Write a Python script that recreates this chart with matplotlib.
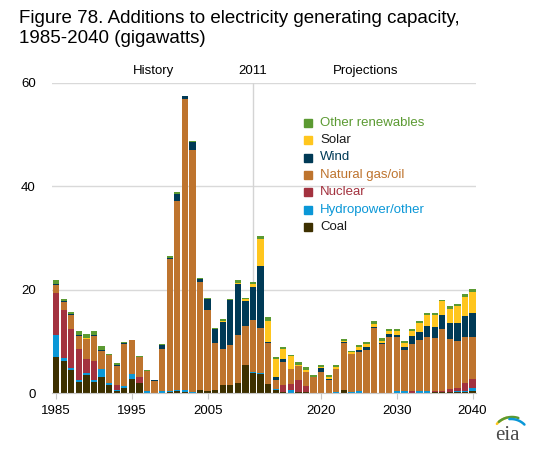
import numpy as np
import matplotlib.pyplot as plt
from matplotlib.patches import Rectangle

plt.rcParams['font.family'] = ['Liberation Sans', 'DejaVu Sans']

years = list(range(1985, 2041))

coal = [7.0, 6.2, 4.45, 2.2, 3.5, 2.1, 3.1, 1.55, 0.4, 1.0,
        2.7, 2.0, 0, 0, 0, 0.2, 0.3, 0.1, 0, 0.6,
        0.45, 0.65, 1.6, 1.6, 2.0, 5.4, 3.9, 3.7, 1.7, 0.6,
        0.2, 0, 0.2, 0.2, 0, 0, 0, 0, 0.6, 0,
        0, 0, 0, 0, 0, 0, 0, 0, 0, 0,
        0.2, 0.2, 0.2, 0.2, 0.2, 0.3]
hydro = [4.2, 0.6, 0.35, 0.3, 0.4, 0.4, 1.5, 0.45, 0.25, 0.35,
         1.0, 0, 0.3, 0, 0.3, 0.1, 0.3, 0.4, 0.2, 0,
         0, 0, 0, 0, 0, 0, 0.2, 0.2, 0, 0.2,
         0, 0.6, 0, 0, 0, 0, 0, 0.2, 0, 0.2,
         0.3, 0, 0, 0, 0, 0.3, 0.4, 0, 0.4, 0.3,
         0, 0, 0, 0.2, 0.1, 0.7]
nuclear = [8.1, 9.3, 7.6, 6.0, 2.7, 3.7, 0, 0, 0.9, 0,
           0, 1.0, 0, 0, 0, 0, 0, 0, 0, 0,
           0, 0, 0, 0, 0, 0, 0, 0, 0, 0,
           1.4, 1.2, 2.3, 1.15, 0, 0, 0, 0, 0, 0,
           0, 0, 0, 0, 0, 0, 0, 0.3, 0, 0.1,
           0.2, 0.2, 0.5, 0.6, 1.7, 1.7]
gas_oil = [1.6, 1.4, 2.7, 2.6, 3.8, 4.8, 3.5, 5.35, 3.65, 8.05,
           6.55, 3.9, 4.0, 2.4, 8.2, 25.7, 36.6, 56.4, 46.7, 20.9,
           15.6, 9.05, 7.0, 7.7, 9.2, 7.6, 10.0, 8.7, 8.0, 1.7,
           4.45, 2.8, 2.7, 2.75, 3.1, 4.1, 2.6, 4.5, 9.0, 7.3,
           7.7, 8.3, 12.6, 9.4, 10.8, 10.5, 8.0, 9.2, 9.85, 10.4,
           10.3, 12.0, 9.75, 9.1, 8.9, 8.2]
wind = [0.2, 0.3, 0.1, 0.2, 0, 0.2, 0.2, 0, 0.2, 0.2,
        0, 0, 0, 0.2, 0.8, 0.2, 1.3, 0.5, 1.6, 0.5,
        2.1, 2.6, 5.2, 8.6, 9.9, 4.7, 6.4, 12.0, 0.2, 0.5,
        0.45, 0.1, 0, 0, 0, 0.8, 0.15, 0, 0.2, 0,
        0.3, 0.6, 0.2, 0.2, 0.6, 0.4, 0.4, 1.5, 1.55, 2.15,
        2.05, 2.7, 3.15, 3.5, 4.05, 4.6]
solar = [0, 0, 0, 0, 0.2, 0, 0, 0, 0, 0,
         0, 0, 0, 0, 0, 0, 0, 0, 0, 0,
         0, 0, 0.2, 0, 0.1, 0.4, 0.6, 5.2, 4.0, 3.5,
         1.95, 2.5, 0.3, 0.3, 0, 0.2, 0.35, 0.3, 0.3, 0.4,
         0.5, 0.5, 0.5, 0.4, 0.6, 0.8, 0.9, 1.05, 1.7, 2.15,
         2.35, 2.6, 2.7, 3.3, 3.65, 4.1]
other = [0.7, 0.4, 0.5, 0.7, 0.8, 0.8, 0.8, 0.2, 0.4, 0.3,
         0, 0.3, 0.2, 0, 0.2, 0.3, 0.4, 0, 0.2, 0.2,
         0.2, 0.2, 0.4, 0.3, 0.7, 0.2, 0.4, 0.6, 0.8, 0.5,
         0.45, 0.2, 0.4, 0.6, 0.4, 0.3, 0.4, 0.35, 0.3, 0.2,
         0.5, 0.5, 0.6, 0.6, 0.4, 0.4, 0.35, 0.35, 0.5, 0.4,
         0.4, 0.3, 0.5, 0.3, 0.6, 0.6]

# bottom to top
series = [('Coal', coal, '#3d3000', '#1a1a1a'),
          ('Hydropower/other', hydro, '#0a97d7', '#0a97d7'),
          ('Nuclear', nuclear, '#a3323f', '#a3323f'),
          ('Natural gas/oil', gas_oil, '#be742e', '#be742e'),
          ('Wind', wind, '#003a56', '#003a56'),
          ('Solar', solar, '#ffc61e', '#1a1a1a'),
          ('Other renewables', other, '#5b9a32', '#5b9a32')]

W, H = 554, 458
fig = plt.figure(figsize=(W / 100, H / 100), dpi=100)
ax = fig.add_axes([52.4 / W, (H - 393) / H, 423.9 / W, 310.3 / H])

bottom = np.zeros(len(years))
for name, vals, col, tcol in series:
    ax.bar(years, vals, width=0.83, bottom=bottom, color=col, linewidth=0, zorder=2)
    bottom += np.array(vals)

ax.set_xlim(1984.5, 2040.5)
ax.set_ylim(0, 60)
ax.set_yticks([0, 20, 40, 60])
ax.set_xticks([1985, 1995, 2005, 2020, 2030, 2040])
ax.grid(axis='y', color='#d9d9d9', lw=1)
ax.set_axisbelow(True)
ax.axvline(2011, color='#d4d4d4', lw=1, zorder=1)
for s in ['top', 'right', 'left']:
    ax.spines[s].set_visible(False)
ax.spines['bottom'].set_color('#c8c8c8')
ax.tick_params(axis='y', length=0, pad=12, labelsize=9.5)
ax.tick_params(axis='x', length=4, color='#c8c8c8', pad=5, labelsize=9.5)

ax.text(1997.9, 62.2, 'History', ha='center', va='center', fontsize=9.5)
ax.text(2011, 62.2, '2011', ha='center', va='center', fontsize=9.5)
ax.text(2025.9, 62.2, 'Projections', ha='center', va='center', fontsize=9.5)

fig.text(19 / W, 1 - 10 / H, 'Figure 78. Additions to electricity generating capacity,\n1985-2040 (gigawatts)',
         ha='left', va='top', fontsize=13.5, linespacing=1.2)

# legend, top entry first
for i, (name, vals, col, tcol) in enumerate(reversed(series)):
    yc = 122.7 + i * 17.4
    fig.patches.append(Rectangle((304 / W, 1 - (yc + 4) / H), 8 / W, 8 / H,
                                 transform=fig.transFigure, color=col))
    fig.text(320 / W, 1 - yc / H, name, ha='left', va='center', fontsize=9.5, color=tcol)

# eia logo, drawn in pixel coordinates of a small overlay axes
lax = fig.add_axes([485 / W, 1 - 450 / H, 50 / W, 45 / H])
lax.set_xlim(485, 535)
lax.set_ylim(450, 405)
lax.axis('off')
lax.text(507.5, 440, 'eia', ha='center', va='baseline', fontsize=15,
         family='Liberation Serif', color='#4a4a4a')
for col, r, a0, a1, cx, cy in [('#ffc61e', 20, 139, 105, 512, 437),
                               ('#5b9a32', 20.5, 130, 72, 512, 437.5),
                               ('#0a97d7', 19, 95, 45, 511, 438)]:
    ang = np.radians(np.linspace(a0, a1, 40))
    lax.plot(cx + r * np.cos(ang), cy - r * np.sin(ang), color=col, lw=1.8,
             solid_capstyle='round')

fig.savefig('out.png', dpi=100)
